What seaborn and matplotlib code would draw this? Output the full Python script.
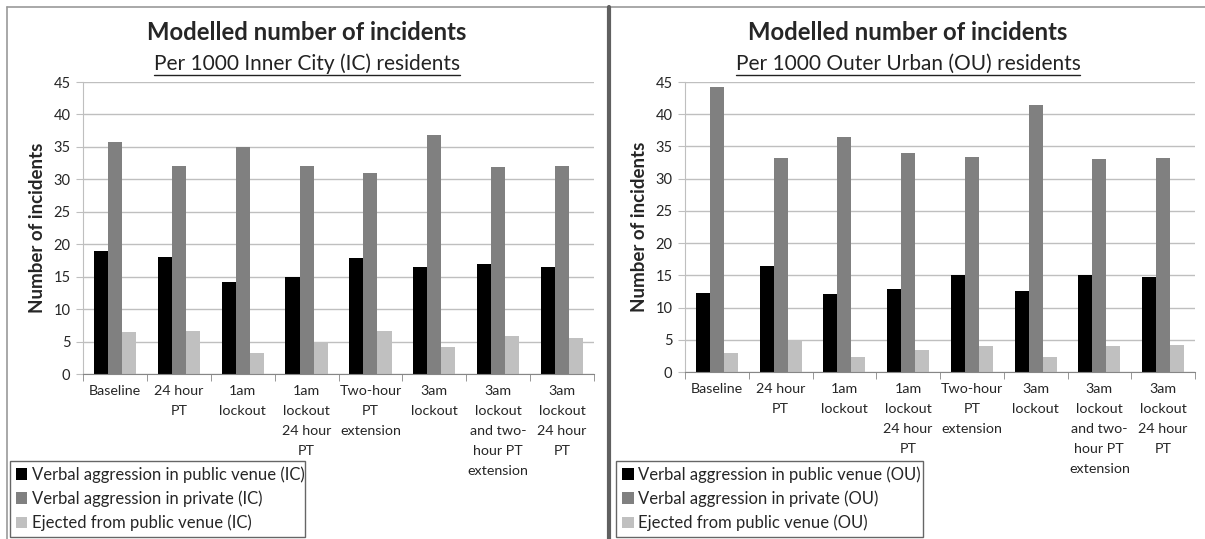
import pandas as pd
import numpy as np
import matplotlib
matplotlib.use("Agg")
import matplotlib.pyplot as plt
from matplotlib.patches import Patch
from matplotlib.lines import Line2D
import seaborn as sns

# ---------------- data ----------------
scenarios = ["Baseline", "24 hour\nPT", "1am\nlockout", "1am\nlockout\n24 hour\nPT",
             "Two-hour\nPT\nextension", "3am\nlockout",
             "3am\nlockout\nand two-\nhour PT\nextension", "3am\nlockout\n24 hour\nPT"]

ic_public = [19.0, 18.0, 14.2, 15.0, 17.8, 16.5, 17.0, 16.5]
ic_private = [35.7, 32.0, 35.0, 32.0, 31.0, 36.8, 31.9, 32.0]
ic_ejected = [6.4, 6.7, 3.3, 5.0, 6.6, 4.1, 5.8, 5.6]

ou_public = [12.3, 16.5, 12.1, 12.9, 15.0, 12.5, 15.0, 14.7]
ou_private = [44.2, 33.2, 36.5, 34.0, 33.4, 41.4, 33.1, 33.2]
ou_ejected = [2.9, 5.0, 2.4, 3.4, 4.0, 2.4, 4.0, 4.2]

ic_series = ["Verbal aggression in public venue (IC)", "Verbal aggression in private (IC)",
             "Ejected from public venue (IC)"]
ou_series = ["Verbal aggression in public venue (OU)", "Verbal aggression in private (OU)",
             "Ejected from public venue (OU)"]

colors = ["#000000", "#808080", "#c0c0c0"]


def make_long(series_names, values):
    rows = []
    for name, vals in zip(series_names, values):
        for sc, v in zip(scenarios, vals):
            rows.append({"scenario": sc, "series": name, "value": v})
    return pd.DataFrame(rows)


ic_df = make_long(ic_series, [ic_public, ic_private, ic_ejected])
ou_df = make_long(ou_series, [ou_public, ou_private, ou_ejected])

# ---------------- style ----------------
sns.set_style("white")
plt.rcParams["font.family"] = ["Lato", "DejaVu Sans"]

fig = plt.figure(figsize=(12.05, 5.39), dpi=100)
W, H = 1205, 539

ax1 = fig.add_axes([83 / W, 1 - 374 / H, 511 / W, 292 / H])
ax2 = fig.add_axes([685 / W, 1 - 372 / H, 510 / W, 290 / H])


def draw_panel(ax, df, names, subtitle, cx, leg_x, leg_w):
    sns.barplot(data=df, x="scenario", y="value", hue="series", palette=colors,
                width=0.66, gap=0, saturation=1, legend=False, ax=ax,
                edgecolor="none", linewidth=0)
    ax.set_ylim(0, 45)
    ax.set_xlim(-0.5, len(scenarios) - 0.5)
    ax.set_yticks(np.arange(0, 46, 5))
    ax.yaxis.grid(True, color="#bfbfbf", linewidth=1)
    ax.xaxis.grid(False)
    ax.set_axisbelow(True)
    for s in ["top", "right"]:
        ax.spines[s].set_visible(False)
    ax.spines["left"].set_color("#bfbfbf")
    ax.spines["bottom"].set_color("#868686")
    ax.tick_params(axis="y", which="major", length=5, color="#bfbfbf",
                   labelsize=10.5, pad=4, left=True)
    ax.tick_params(axis="x", which="major", length=0, labelsize=10.3, pad=8)
    ax.set_xticks(np.arange(-0.5, len(scenarios), 1.0), minor=True)
    ax.tick_params(axis="x", which="minor", length=5, color="#868686", bottom=True)
    for lab in ax.get_xticklabels():
        lab.set_verticalalignment("top")
        lab.set_linespacing(1.8)
    ax.set_xlabel("")
    ax.set_ylabel("Number of incidents", fontsize=13.5, fontweight="bold")
    ax.yaxis.set_label_coords(-0.072, 0.5)

    fig.text(cx / W, 1 - 33 / H, "Modelled number of incidents", ha="center",
             va="center", fontsize=17.2, fontweight="bold")
    fig.text(cx / W, 1 - 64 / H, subtitle, ha="center", va="center",
             fontsize=15, color="#222222")
    # underline for the subtitle
    t = fig.texts[-1]
    fig.canvas.draw()
    bb = t.get_window_extent()
    fig.add_artist(Line2D([bb.x0 / W, bb.x1 / W], [(bb.y0 - 1) / H, (bb.y0 - 1) / H],
                          color="#222222", linewidth=1.0))

    handles = [Patch(facecolor=c, edgecolor="none") for c in colors]
    leg = ax.legend(handles, names, loc="lower left",
                    bbox_to_anchor=(leg_x / W, 2 / H, leg_w / W, 78 / H),
                    bbox_transform=fig.transFigure, mode="expand",
                    fontsize=12, frameon=True, fancybox=False,
                    handlelength=0.7, handleheight=0.7, handletextpad=0.3,
                    labelspacing=0.45, borderpad=0.35, borderaxespad=0)
    leg.get_frame().set_edgecolor("#404040")
    leg.get_frame().set_linewidth(1.0)


draw_panel(ax1, ic_df, ic_series, "Per 1000 Inner City (IC) residents", 307, 10, 295)
draw_panel(ax2, ou_df, ou_series, "Per 1000 Outer Urban (OU) residents", 908, 616, 307)

# panel frames
fig.add_artist(Line2D([7 / W, 1.0], [1 - 7 / H, 1 - 7 / H], color="#9a9a9a", linewidth=1.2))
fig.add_artist(Line2D([7 / W, 7 / W], [0, 1 - 7 / H], color="#9a9a9a", linewidth=1.2))
fig.add_artist(Line2D([609 / W, 609 / W], [0, 1 - 7 / H], color="#606060", linewidth=3.0))

fig.savefig("out.png", dpi=100)
